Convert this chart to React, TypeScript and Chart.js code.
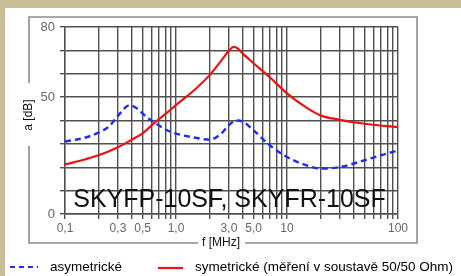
import React, { useEffect, useRef } from "react";
import { Chart, registerables } from "chart.js";

Chart.register(...registerables);

// Frequencies (MHz) and attenuation (dB) for each series
const asymFreq = [0.1, 0.15, 0.2, 0.25, 0.3, 0.38, 0.45, 0.5, 0.6, 0.7, 0.85, 1.0, 1.5, 2.0, 2.5, 3.0, 3.5, 4, 5, 7, 10, 15, 20, 30, 50, 70, 100];
const asymDb = [31, 32.6, 34.8, 37.5, 42, 46.5, 45, 43, 40, 37.9, 35.6, 34.4, 32.6, 31.8, 34, 38, 40, 39.5, 35.8, 29.4, 24.4, 20.8, 19.4, 20.1, 23, 25.1, 27.2];

const symFreq = [0.1, 0.15, 0.2, 0.3, 0.4, 0.5, 0.65, 0.8, 1.0, 1.5, 2.0, 2.5, 3.0, 3.3, 3.6, 4, 5, 7, 10, 15, 20, 30, 50, 100];
const symDb = [21.2, 23.3, 25.1, 28.6, 31.8, 34.5, 39.3, 42.7, 46.6, 53.5, 59.3, 65, 69.8, 71.5, 70.8, 68.6, 64.5, 58.5, 51.6, 45.5, 42.2, 40.3, 38.6, 37.2];

const xTickValues = [
  0.1, 0.2, 0.3, 0.4, 0.5, 0.6, 0.7, 0.8, 0.9,
  1, 2, 3, 4, 5, 6, 7, 8, 9,
  10, 20, 30, 40, 50, 60, 70, 80, 90, 100,
];
const xLabelValues = [0.1, 0.3, 0.5, 1, 3, 5, 10, 100];
const xLabelTexts = ["0,1", "0,3", "0,5", "1,0", "3,0", "5,0", "10", "100"];
const yLabelValues = [0, 50, 80];

const seriesNames = ["asymetrické", "symetrické (měření v soustavě 50/50 Ohm)"];
const chartLabel = "SKYFP-10SF, SKYFR-10SF";
const xTitle = "f [MHz]";
const yTitle = "a [dB]";

const FONT = "'Liberation Sans', Arial, sans-serif";
const BLUE = "#1f2cf0";
const RED = "#ee1111";
const GRID = "#505050";

const decorPlugin = {
  id: "decor",
  beforeDraw(chart: any) {
    const ctx = chart.ctx as CanvasRenderingContext2D;
    const W = chart.width;
    const H = chart.height;
    ctx.save();
    ctx.fillStyle = "#c8be98";
    ctx.fillRect(0, 0, W, H);
    ctx.fillStyle = "#ffffff";
    ctx.fillRect(5, 8, W - 5, H - 8);

    // frame
    ctx.strokeStyle = "#8c8c8c";
    ctx.lineWidth = 1.6;
    ctx.beginPath();
    ctx.moveTo(29, 83);
    ctx.lineTo(29, 17);
    ctx.lineTo(417, 17);
    ctx.lineTo(417, 243);
    ctx.lineTo(245, 243);
    ctx.moveTo(198, 243);
    ctx.lineTo(29, 243);
    ctx.lineTo(29, 146);
    ctx.stroke();

    // axis titles
    ctx.fillStyle = "#111";
    ctx.font = `12px ${FONT}`;
    ctx.textAlign = "center";
    ctx.textBaseline = "middle";
    ctx.fillText(xTitle, 221, 243);
    ctx.save();
    ctx.translate(29, 115);
    ctx.rotate(-Math.PI / 2);
    ctx.fillText(yTitle, 0, 0);
    ctx.restore();

    // legend
    ctx.lineWidth = 2.2;
    ctx.strokeStyle = BLUE;
    ctx.setLineDash([5, 4]);
    ctx.beginPath();
    ctx.moveTo(10, 267);
    ctx.lineTo(38, 267);
    ctx.stroke();
    ctx.setLineDash([]);
    ctx.strokeStyle = RED;
    ctx.beginPath();
    ctx.moveTo(158, 268);
    ctx.lineTo(183, 268);
    ctx.stroke();
    ctx.fillStyle = "#000";
    ctx.textAlign = "left";
    ctx.font = `13.5px ${FONT}`;
    ctx.fillText(seriesNames[0], 50, 267);
    ctx.fillText(seriesNames[1], 195, 267);
    ctx.restore();
  },
  beforeDatasetsDraw(chart: any) {
    const ctx = chart.ctx as CanvasRenderingContext2D;
    const area = chart.chartArea;
    ctx.save();
    ctx.fillStyle = "#111";
    ctx.font = `25px ${FONT}`;
    ctx.textAlign = "center";
    ctx.textBaseline = "alphabetic";
    ctx.fillText(chartLabel, (area.left + area.right) / 2 - 2, 207);
    ctx.restore();
  },
};

export default function App() {
  const ref = useRef<HTMLCanvasElement>(null);
  useEffect(() => {
    if (!ref.current) return;
    const chart = new Chart(ref.current, {
      type: "line",
      data: {
        datasets: [
          {
            label: seriesNames[0],
            data: asymFreq.map((f, i) => ({ x: f, y: asymDb[i] })),
            borderColor: BLUE,
            borderWidth: 2.4,
            borderDash: [6, 4],
            pointRadius: 0,
            cubicInterpolationMode: "monotone",
            fill: false,
          },
          {
            label: seriesNames[1],
            data: symFreq.map((f, i) => ({ x: f, y: symDb[i] })),
            borderColor: RED,
            borderWidth: 2.2,
            pointRadius: 0,
            cubicInterpolationMode: "monotone",
            fill: false,
          },
        ],
      },
      options: {
        animation: false,
        responsive: false,
        layout: { padding: { left: 25, right: 63, top: 27, bottom: 42 } },
        plugins: {
          legend: { display: false },
          tooltip: { enabled: false },
          title: { display: false },
        },
        scales: {
          x: {
            type: "logarithmic",
            min: 0.1,
            max: 100,
            afterBuildTicks: (scale: any) => {
              scale.ticks = xTickValues.map((v) => ({ value: v }));
            },
            afterFit: (scale: any) => {
              scale.height = 20;
            },
            ticks: {
              autoSkip: false,
              maxRotation: 0,
              padding: 2,
              color: "#666",
              font: { family: FONT, size: 12 },
              callback: (v: any) => {
                const i = xLabelValues.findIndex((x) => Math.abs(x - Number(v)) < 1e-9);
                return i >= 0 ? xLabelTexts[i] : "";
              },
            },
            grid: { color: GRID, lineWidth: 1.4, tickLength: 5 },
            border: { color: GRID, width: 1.4 },
          },
          y: {
            min: 0,
            max: 80,
            afterFit: (scale: any) => {
              scale.width = 40;
            },
            ticks: {
              stepSize: 10,
              padding: 5,
              color: "#666",
              font: { family: FONT, size: 13 },
              callback: (v: any) => (yLabelValues.includes(Number(v)) ? String(v) : ""),
            },
            grid: { color: GRID, lineWidth: 1.4, tickLength: 5 },
            border: { color: GRID, width: 1.4 },
          },
        },
      },
      plugins: [decorPlugin],
    });
    return () => chart.destroy();
  }, []);
  return (
    <div style={{ position: "absolute", left: 0, top: 0, width: 461, height: 276 }}>
      <canvas ref={ref} width={461} height={276} style={{ display: "block" }} />
    </div>
  );
}
